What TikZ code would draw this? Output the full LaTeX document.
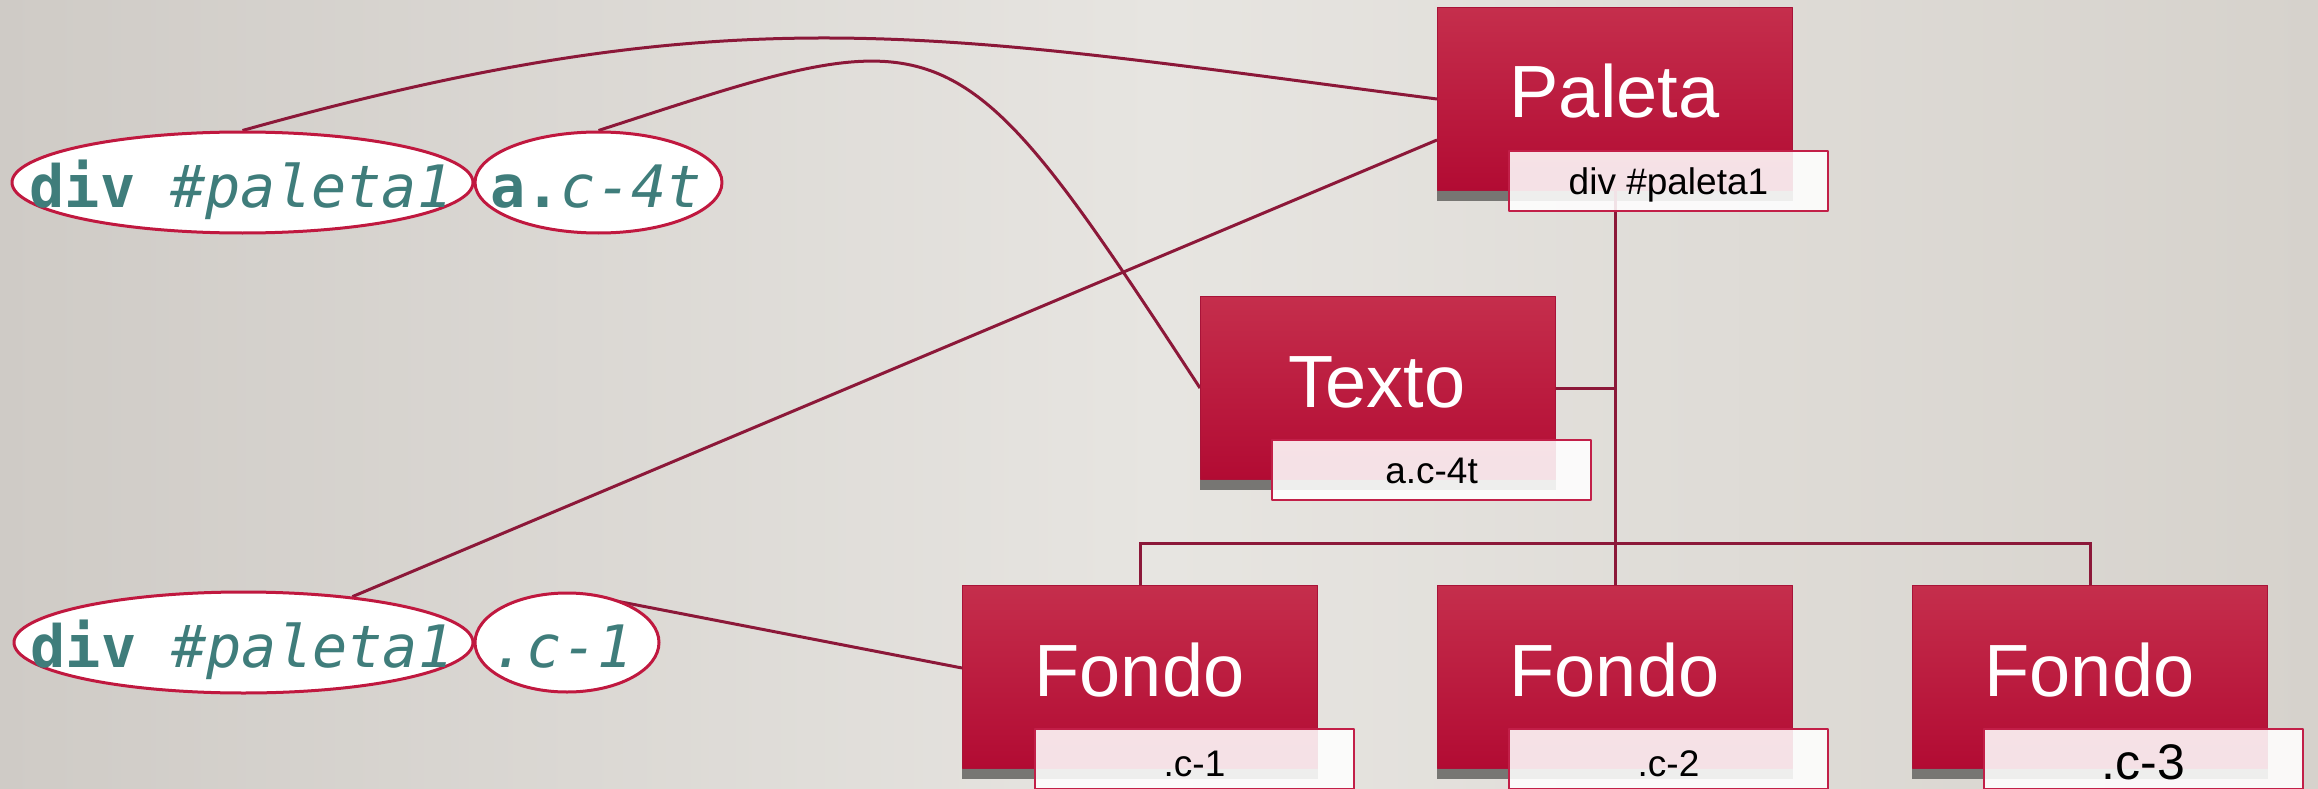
\documentclass[tikz,border=0pt]{standalone}
\usepackage{fontspec}
\setmainfont{Liberation Sans}
\newfontfamily\monof{DejaVu Sans Mono}
\usetikzlibrary{shapes.geometric,calc}
\definecolor{bgl}{HTML}{CFCBC6}
\definecolor{bgm}{HTML}{E7E5E1}
\definecolor{bgr}{HTML}{D6D2CC}
\definecolor{conncol}{HTML}{8C1839}
\definecolor{ellcol}{HTML}{C0183F}
\definecolor{tealtxt}{HTML}{3F7D7B}
\definecolor{boxtop}{HTML}{C52E4C}
\definecolor{boxbot}{HTML}{B20B33}
\definecolor{boxedge}{HTML}{A81338}
\definecolor{shadowc}{HTML}{777673}
\definecolor{lblline}{HTML}{C21F48}
\pgfdeclarelayer{bg}
\pgfsetlayers{bg,main}
\tikzset{
  redbox/.style={rectangle, draw=boxedge, line width=1pt, top color=boxtop, bottom color=boxbot,
    minimum width=355, minimum height=183, anchor=north west, inner sep=0},
  lblbox/.style={rectangle, draw=lblline, line width=2pt, fill=white, fill opacity=0.88,
    minimum width=319, minimum height=60, anchor=north west, inner sep=0},
  boxtxt/.style={anchor=base, text=white, font=\fontsize{74}{80}\selectfont, inner sep=0},
  lbltxt/.style={anchor=base, text=black, font=\fontsize{37}{42}\selectfont, inner sep=0},
  ell/.style={ellipse, draw=ellcol, line width=3pt, fill=white, inner sep=0},
  elltxt/.style={anchor=base, text=tealtxt, font=\monof\fontsize{58.5}{62}\selectfont, inner sep=0},
  conn/.style={draw=conncol, line width=3pt},
  shadowbar/.style={fill=shadowc}
}
\begin{document}
\begin{tikzpicture}[x=1pt, y=-1pt, line join=round]
\useasboundingbox (0,0) rectangle (2318,789);
% ellipses
\node[ell, minimum width=461, minimum height=101] (e1) at (242.5,182.5) {};
\node[ell, minimum width=247, minimum height=101] (e2) at (598.5,182.5) {};
\node[ell, minimum width=459, minimum height=101] (e3) at (243.5,642.5) {};
\node[ell, minimum width=184, minimum height=99] (e4) at (567,642.5) {};
\node[elltxt] (e1t) at (241,207) {\textbf{div} \textit{\#paleta1}};
\node[elltxt] (e2t) at (596,207) {\textbf{a.}\textit{c-4t}};
\node[elltxt] (e3t) at (242,667) {\textbf{div} \textit{\#paleta1}};
\node[elltxt] (e4t) at (562,667) {\textit{.c-1}};
% boxes
\node[redbox] (pal) at (1437,7) {};
\node[redbox] (tx) at (1200,296) {};
\node[redbox] (f1) at (962,585) {};
\node[redbox] (f2) at (1437,585) {};
\node[redbox] (f3) at (1912,585) {};
\node[boxtxt] (palt) at (1614.5,118) {Paleta};
\node[boxtxt] (txt) at (1377,407) {Texto};
\node[boxtxt] (f1t) at (1139.5,696) {Fondo};
\node[boxtxt] (f2t) at (1614.5,696) {Fondo};
\node[boxtxt] (f3t) at (2089.5,696) {Fondo};
% labels
\node[lblbox] (pall) at (1508,150) {};
\node[lblbox] (txl) at (1271,439) {};
\node[lblbox] (f1l) at (1034,728) {};
\node[lblbox] (f2l) at (1508,728) {};
\node[lblbox] (f3l) at (1983,728) {};
\node[lbltxt] (pallt) at (pall.center |- 0,194) {div \#paleta1};
\node[lbltxt] (txlt) at (txl.center |- 0,483) {a.c-4t};
\node[lbltxt] (f1lt) at (f1l.center |- 0,776) {.c-1};
\node[lbltxt] (f2lt) at (f2l.center |- 0,776) {.c-2};
\node[lbltxt, font=\fontsize{50}{54}\selectfont] (f3lt) at (f3l.center |- 0,779) {.c-3};
\coordinate (bus) at (1614.5,543);
\coordinate (f1in) at ($(f1.west)+(0,-9)$);
\coordinate (e4out) at ($(e4.north)!0.06!(f1in)$);
\begin{pgfonlayer}{bg}
\shade[left color=bgl, right color=bgr, middle color=bgm] (0,0) rectangle (2318,789);
% shadows
\foreach \b in {pal,tx,f1,f2,f3}{
  \fill[shadowbar] (\b.south west) rectangle ($(\b.south east)+(0,10)$);
}
% connectors
\draw[conn] (e1.north) .. controls +(500,-140) and +(-500,-64.5) .. (pal.west);
\draw[conn] (e2.north) .. controls +(351,-114) and +(-250,-382) .. (tx.west);
\draw[conn] (e3) -- ($(pal.west)+(0,41)$);
\draw[conn] (e4out) -- (f1in);
% tree
\draw[conn] (pal.south) -- (f2.north);
\draw[conn] (tx.east) -- (tx.east -| pal.south);
\draw[conn] (f1.north) -- (f1.north |- bus) -- (f3.north |- bus) -- (f3.north);
\end{pgfonlayer}
\end{tikzpicture}
\end{document}
